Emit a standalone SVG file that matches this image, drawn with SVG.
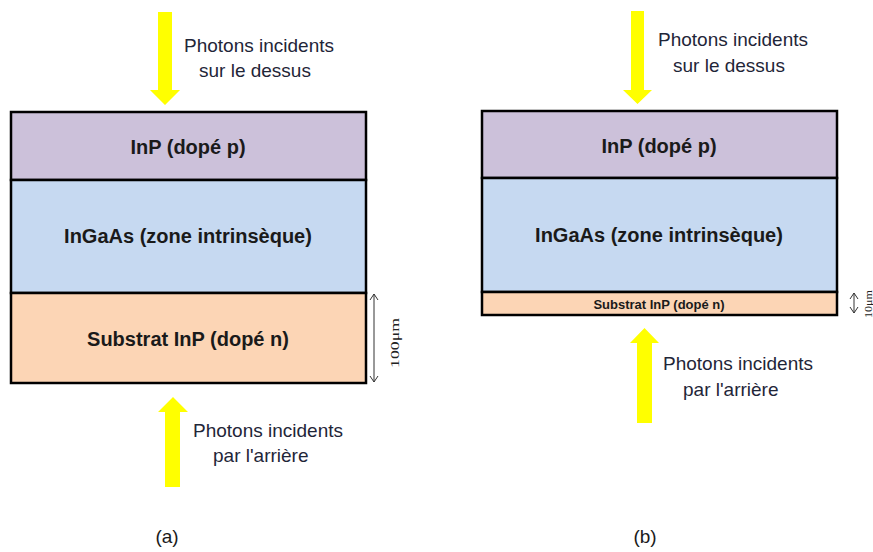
<svg xmlns="http://www.w3.org/2000/svg" width="873" height="552" viewBox="0 0 873 552">
<style>
.layer{stroke:#000;stroke-width:2.5}
.p{fill:#CCC1DA}.b{fill:#C6D9F1}.o{fill:#FCD5B5}
.lbl{font-family:"Liberation Sans",Arial,sans-serif;font-weight:bold;font-size:20px;fill:#1a1a1a;text-anchor:middle}
.ph{font-family:"Liberation Sans",Arial,sans-serif;font-size:19px;fill:#1f2638}
.cap{font-family:"Liberation Sans",Arial,sans-serif;font-size:19px;fill:#1a1a1a;text-anchor:middle}
.dim{font-family:"Liberation Serif","Times New Roman",serif;font-size:13px;fill:#222}
.arr{fill:#FFFF00}
.dl{stroke:#333;stroke-width:1;fill:none}
</style>
<rect width="873" height="552" fill="#fff"/>
<g id="diagram-a">
  <g id="a-inp-p"><rect class="layer p" x="11" y="112" width="355" height="68"/><text class="lbl" x="188" y="154">InP (dopé p)</text></g>
  <g id="a-ingaas"><rect class="layer b" x="11" y="180" width="355" height="113"/><text class="lbl" x="188" y="243">InGaAs (zone intrinsèque)</text></g>
  <g id="a-substrat"><rect class="layer o" x="11" y="293" width="355" height="90"/><text class="lbl" x="188" y="346">Substrat InP (dopé n)</text></g>
  <g id="a-top-photons"><polygon class="arr" points="158,12 172,12 172,90 180,90 165,105 150,90 158,90"/><text class="ph" x="184" y="52">Photons incidents</text><text class="ph" x="199" y="77">sur le dessus</text></g>
  <g id="a-back-photons"><polygon class="arr" points="165,487 180,487 180,412 188,412 173,397 158,412 165,412"/><text class="ph" x="193" y="437">Photons incidents</text><text class="ph" x="213" y="462">par l'arrière</text></g>
  <g id="a-dim"><line class="dl" x1="374" y1="294" x2="374" y2="382"/><polyline class="dl" points="370,300 374,294 378,300"/><polyline class="dl" points="370,376 374,382 378,376"/><text class="dim" transform="translate(399,343) rotate(-90)" text-anchor="middle" textLength="50" lengthAdjust="spacingAndGlyphs">100μm</text></g>
  <text class="cap" x="167" y="543">(a)</text>
</g>
<g id="diagram-b">
  <g id="b-inp-p"><rect class="layer p" x="482" y="111" width="355" height="67"/><text class="lbl" x="659" y="153">InP (dopé p)</text></g>
  <g id="b-ingaas"><rect class="layer b" x="482" y="178" width="355" height="114"/><text class="lbl" x="659" y="242">InGaAs (zone intrinsèque)</text></g>
  <g id="b-substrat"><rect class="layer o" x="482" y="292" width="355" height="23"/><text class="lbl" x="659" y="309" style="font-size:13px">Substrat InP (dopé n)</text></g>
  <g id="b-top-photons"><polygon class="arr" points="631,11 644,11 644,90 652,90 637.5,104 623,90 631,90"/><text class="ph" x="658" y="46">Photons incidents</text><text class="ph" x="673" y="72">sur le dessus</text></g>
  <g id="b-back-photons"><polygon class="arr" points="637,423 652,423 652,343 659,343 644.5,328 630,343 637,343"/><text class="ph" x="663" y="370">Photons incidents</text><text class="ph" x="683" y="396">par l'arrière</text></g>
  <g id="b-dim"><line class="dl" x1="854" y1="293" x2="854" y2="313"/><polyline class="dl" points="850,299 854,293 858,299"/><polyline class="dl" points="850,307 854,313 858,307"/><text class="dim" transform="translate(872,304) rotate(-90)" text-anchor="middle" textLength="28" lengthAdjust="spacingAndGlyphs" style="font-size:10px">10μm</text></g>
  <text class="cap" x="645" y="543">(b)</text>
</g>
</svg>
